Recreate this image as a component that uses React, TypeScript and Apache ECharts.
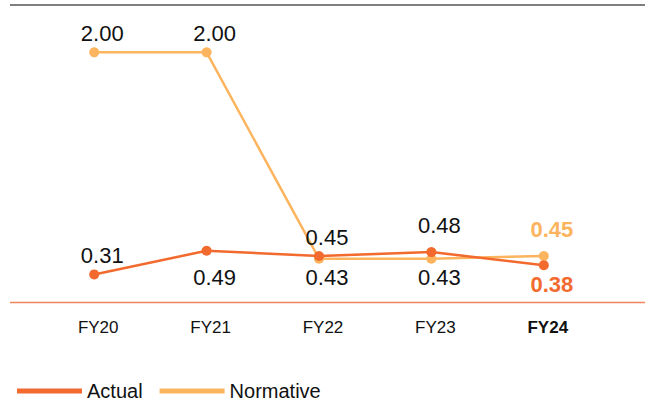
import React, { useEffect, useRef } from "react";
import * as echarts from "echarts";

const categories = ["FY20", "FY21", "FY22", "FY23", "FY24"];
const actual = [0.31, 0.49, 0.45, 0.48, 0.38];
const normative = [2.0, 2.0, 0.43, 0.43, 0.45];
const actualLabelPos = ["top", "bottom", "top", "top", "bottom"];
const normativeLabelPos = ["top", "top", "bottom", "bottom", "top"];

const ACTUAL_COLOR = "#F26A2E";
const NORM_COLOR = "#FCB45E";
const FONT = "Liberation Sans, Arial, sans-serif";

export default function App() {
  const ref = useRef<HTMLDivElement>(null);
  useEffect(() => {
    if (!ref.current) return;
    const chart = echarts.init(ref.current, null, { renderer: "svg" });
    const last = categories.length - 1;
    // label distances (styling only)
    const actualDist = [3, 11, 3, 11, 3];
    const normDist = [3, 3, 3, 3, 11];
    const mkData = (vals: number[], pos: string[], dist: number[], color: string) =>
      vals.map((v, i) => ({
        value: v,
        label: {
          position: pos[i],
          distance: dist[i],
          ...(i === last ? { fontWeight: "bold", color } : {}),
        },
      }));
    const labelStyle = {
      show: true,
      fontFamily: FONT,
      fontSize: 22,
      color: "#111",
      offset: [8, 0],
      formatter: (p: any) => Number(p.value).toFixed(2),
    };
    chart.setOption({
      animation: false,
      grid: { left: 38, right: 45, top: 5, bottom: 99 },
      xAxis: {
        type: "category",
        data: categories,
        boundaryGap: true,
        axisLine: { show: false },
        axisTick: { show: false },
        axisLabel: {
          fontFamily: FONT,
          fontSize: 17,
          color: "#111",
          margin: 17,
          padding: [0, 0, 0, 8],
          formatter: (v: string) => (v === categories[last] ? `{b|${v}}` : v),
          rich: { b: { fontWeight: "bold", fontSize: 17, color: "#111", fontFamily: FONT } },
        },
      },
      yAxis: {
        type: "value",
        min: 0.1,
        max: 2.36,
        show: false,
      },
      legend: {
        left: 12,
        top: 376,
        icon: "rect",
        itemWidth: 65,
        itemHeight: 5,
        itemGap: 17,
        textStyle: { fontFamily: FONT, fontSize: 20, color: "#111" },
        data: ["Actual", "Normative"],
      },
      graphic: [
        { type: "line", shape: { x1: 10, y1: 5, x2: 645, y2: 5 }, style: { stroke: "#7F7F7F", lineWidth: 2 } },
        { type: "line", shape: { x1: 10, y1: 302.5, x2: 645, y2: 302.5 }, style: { stroke: "#F0845C", lineWidth: 1.5 } },
      ],
      series: [
        {
          name: "Normative",
          type: "line",
          data: mkData(normative, normativeLabelPos, normDist, NORM_COLOR),
          color: NORM_COLOR,
          lineStyle: { width: 2.5, color: NORM_COLOR },
          symbol: "circle",
          symbolSize: 10,
          itemStyle: { color: NORM_COLOR },
          label: labelStyle,
        },
        {
          name: "Actual",
          type: "line",
          data: mkData(actual, actualLabelPos, actualDist, ACTUAL_COLOR),
          color: ACTUAL_COLOR,
          lineStyle: { width: 2.5, color: ACTUAL_COLOR },
          symbol: "circle",
          symbolSize: 10,
          itemStyle: { color: ACTUAL_COLOR },
          label: labelStyle,
        },
      ],
    });
    return () => chart.dispose();
  }, []);
  return <div ref={ref} style={{ width: 645, height: 401, position: "absolute", left: 0, top: 0 }} />;
}
